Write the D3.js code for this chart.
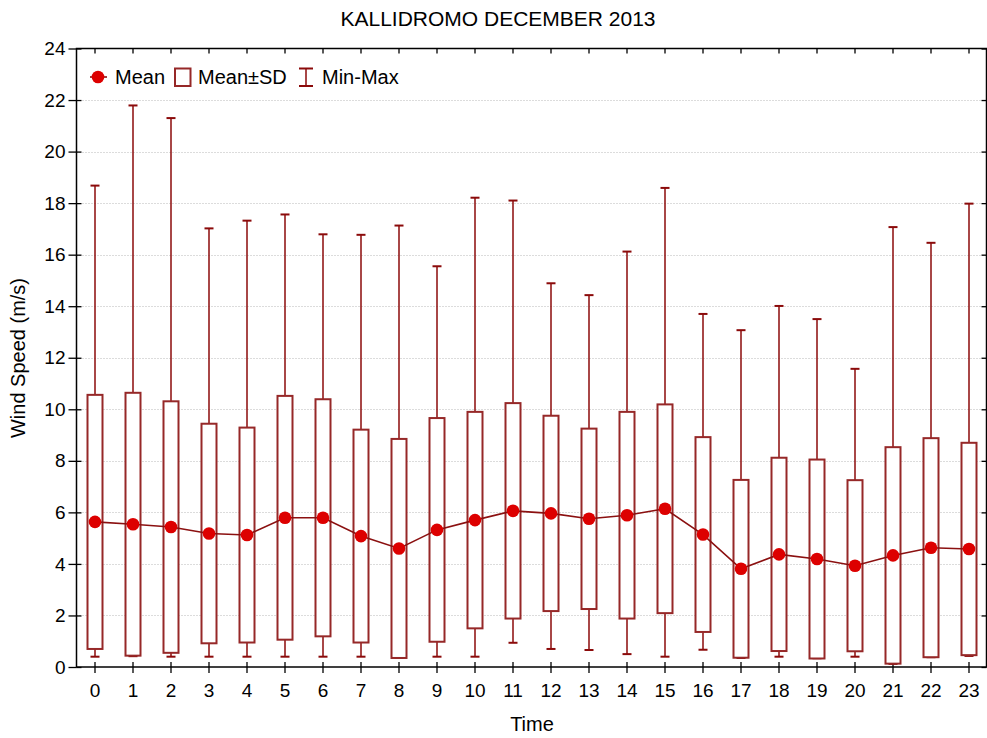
<!DOCTYPE html>
<html>
<head>
<meta charset="utf-8">
<script src="https://cdn.jsdelivr.net/npm/d3@7/dist/d3.min.js"></script>
<style>
  html, body { margin: 0; padding: 0; background: #fff; }
  svg { display: block; font-family: "Liberation Sans", Arial, sans-serif; }
</style>
</head>
<body>
<svg id="chart" width="987" height="738"></svg>
<script>
const title = "KALLIDROMO DECEMBER 2013";
const xTitle = "Time";
const yTitle = "Wind Speed (m/s)";
const hours = ["0","1","2","3","4","5","6","7","8","9","10","11","12","13","14","15","16","17","18","19","20","21","22","23"];
const means = [5.63,5.54,5.43,5.18,5.12,5.79,5.79,5.08,4.60,5.32,5.70,6.06,5.96,5.75,5.89,6.14,5.14,3.81,4.37,4.19,3.93,4.33,4.63,4.58];
const sds   = [4.93,5.10,4.88,4.26,4.17,4.73,4.60,4.13,4.25,4.34,4.20,4.18,3.79,3.50,4.01,4.05,3.78,3.45,3.75,3.86,3.32,4.20,4.25,4.12];
const mins  = [0.40,0.42,0.40,0.40,0.40,0.40,0.40,0.40,0.35,0.40,0.40,0.94,0.70,0.66,0.50,0.40,0.67,0.35,0.40,0.34,0.40,0.12,0.38,0.43];
const maxs  = [18.68,21.79,21.30,17.02,17.32,17.56,16.79,16.77,17.13,15.55,18.21,18.10,14.89,14.43,16.12,18.59,13.70,13.07,14.01,13.50,11.57,17.07,16.46,17.98];
const yTicks = [0,2,4,6,8,10,12,14,16,18,20,22,24];
const legendLabels = ["Mean","Mean±SD","Min-Max"];

const W = 987, H = 738;
const plot = {left: 76.5, right: 986.5, top: 48.5, bottom: 667};
const svg = d3.select("#chart");

const x = d3.scaleBand().domain(hours).range([76, 988]).padding(0);
const cx = d => x(d) + x.bandwidth() / 2;
const y = d3.scaleLinear().domain([0, 24]).range([667, 48.5]);

const boxColor = "#962828";
const whiskColor = "#8b0a0a";
const dotColor = "#dd0000";
const lineColor = "#8b1010";
const boxW = 15, capW = 9;

// gridlines
svg.append("g").selectAll("line").data(yTicks.filter(t => t > 0 && t < 24)).join("line")
  .attr("x1", plot.left).attr("x2", plot.right)
  .attr("y1", d => Math.round(y(d)) + 0.5).attr("y2", d => Math.round(y(d)) + 0.5)
  .attr("stroke", "#b8b8b8").attr("stroke-width", 1).attr("stroke-dasharray", "1,2");

// axes
const fs = 19;
const gL = svg.append("g").attr("transform", `translate(${plot.left},0)`)
  .call(d3.axisLeft(y).tickValues(yTicks).tickSize(8).tickSizeOuter(0).tickPadding(3));
const gB = svg.append("g").attr("transform", `translate(0,${plot.bottom})`)
  .call(d3.axisBottom(x).tickSize(6).tickSizeOuter(0).tickPadding(11));
const gT = svg.append("g").attr("transform", `translate(0,${plot.top})`)
  .call(d3.axisTop(x).tickSize(-5).tickSizeOuter(0).tickFormat(""));
const gR = svg.append("g").attr("transform", `translate(${plot.right},0)`)
  .call(d3.axisRight(y).tickValues(yTicks).tickSize(-5).tickSizeOuter(0).tickFormat(""));
[gL, gB, gT, gR].forEach(g => {
  g.select(".domain").remove();
  g.selectAll(".tick line").attr("stroke", "#000").attr("stroke-width", 1.3);
  g.selectAll("text").attr("font-size", fs).attr("fill", "#000")
    .attr("font-family", "'Liberation Sans', Arial, sans-serif");
});
// inner part of left/bottom ticks
gL.selectAll(".tick").append("line").attr("x1", 0).attr("x2", 5).attr("stroke", "#000").attr("stroke-width", 1.3);
gB.selectAll(".tick").append("line").attr("y1", 0).attr("y2", -5).attr("stroke", "#000").attr("stroke-width", 1.3);

// frame
svg.append("rect").attr("x", plot.left).attr("y", plot.top)
  .attr("width", plot.right - plot.left).attr("height", plot.bottom - plot.top)
  .attr("fill", "none").attr("stroke", "#000").attr("stroke-width", 1.5);

const data = hours.map((h, i) => ({h, mean: means[i], sd: sds[i], min: mins[i], max: maxs[i]}));

// whiskers
const wg = svg.append("g");
wg.selectAll("line.w").data(data).join("line").attr("class", "w")
  .attr("x1", d => cx(d.h)).attr("x2", d => cx(d.h))
  .attr("y1", d => y(d.min)).attr("y2", d => y(d.max))
  .attr("stroke", whiskColor).attr("stroke-width", 1.5);
wg.selectAll("line.cmax").data(data).join("line").attr("class", "cmax")
  .attr("x1", d => cx(d.h) - capW / 2).attr("x2", d => cx(d.h) + capW / 2)
  .attr("y1", d => y(d.max)).attr("y2", d => y(d.max))
  .attr("stroke", whiskColor).attr("stroke-width", 2);
wg.selectAll("line.cmin").data(data).join("line").attr("class", "cmin")
  .attr("x1", d => cx(d.h) - capW / 2).attr("x2", d => cx(d.h) + capW / 2)
  .attr("y1", d => y(d.min)).attr("y2", d => y(d.min))
  .attr("stroke", whiskColor).attr("stroke-width", 2);

// boxes
svg.append("g").selectAll("rect").data(data).join("rect")
  .attr("x", d => cx(d.h) - boxW / 2).attr("width", boxW)
  .attr("y", d => y(d.mean + d.sd))
  .attr("height", d => y(d.mean - d.sd) - y(d.mean + d.sd))
  .attr("fill", "#fff").attr("stroke", boxColor).attr("stroke-width", 2);

// mean line
svg.append("path").datum(data)
  .attr("d", d3.line().x(d => cx(d.h)).y(d => y(d.mean)))
  .attr("fill", "none").attr("stroke", lineColor).attr("stroke-width", 1.6);
svg.append("g").selectAll("circle").data(data).join("circle")
  .attr("cx", d => cx(d.h)).attr("cy", d => y(d.mean)).attr("r", 6.3)
  .attr("fill", dotColor);

// title and axis titles
svg.append("text").attr("x", 498).attr("y", 26).attr("text-anchor", "middle")
  .attr("font-size", 21).text(title);
svg.append("text").attr("x", 532).attr("y", 731).attr("text-anchor", "middle")
  .attr("font-size", 20).text(xTitle);
svg.append("text").attr("transform", "translate(25,358) rotate(-90)").attr("text-anchor", "middle")
  .attr("font-size", 20).text(yTitle);

// legend
const lg = svg.append("g");
const ly = 77;
lg.append("line").attr("x1", 90).attr("x2", 107).attr("y1", ly).attr("y2", ly)
  .attr("stroke", lineColor).attr("stroke-width", 1.6);
lg.append("circle").attr("cx", 98).attr("cy", ly).attr("r", 6.3).attr("fill", dotColor);
lg.append("text").attr("x", 115).attr("y", ly + 7).attr("font-size", 20).text(legendLabels[0]);
lg.append("rect").attr("x", 175).attr("y", 68.5).attr("width", 15.5).attr("height", 17.5)
  .attr("fill", "#fff").attr("stroke", boxColor).attr("stroke-width", 2);
lg.append("text").attr("x", 198).attr("y", ly + 7).attr("font-size", 20).text(legendLabels[1]);
lg.append("line").attr("x1", 306).attr("x2", 306).attr("y1", 68.5).attr("y2", 86)
  .attr("stroke", whiskColor).attr("stroke-width", 1.5);
lg.append("line").attr("x1", 299).attr("x2", 313).attr("y1", 68.5).attr("y2", 68.5)
  .attr("stroke", whiskColor).attr("stroke-width", 2);
lg.append("line").attr("x1", 299).attr("x2", 313).attr("y1", 86).attr("y2", 86)
  .attr("stroke", whiskColor).attr("stroke-width", 2);
lg.append("text").attr("x", 322).attr("y", ly + 7).attr("font-size", 20).text(legendLabels[2]);
</script>
</body>
</html>
